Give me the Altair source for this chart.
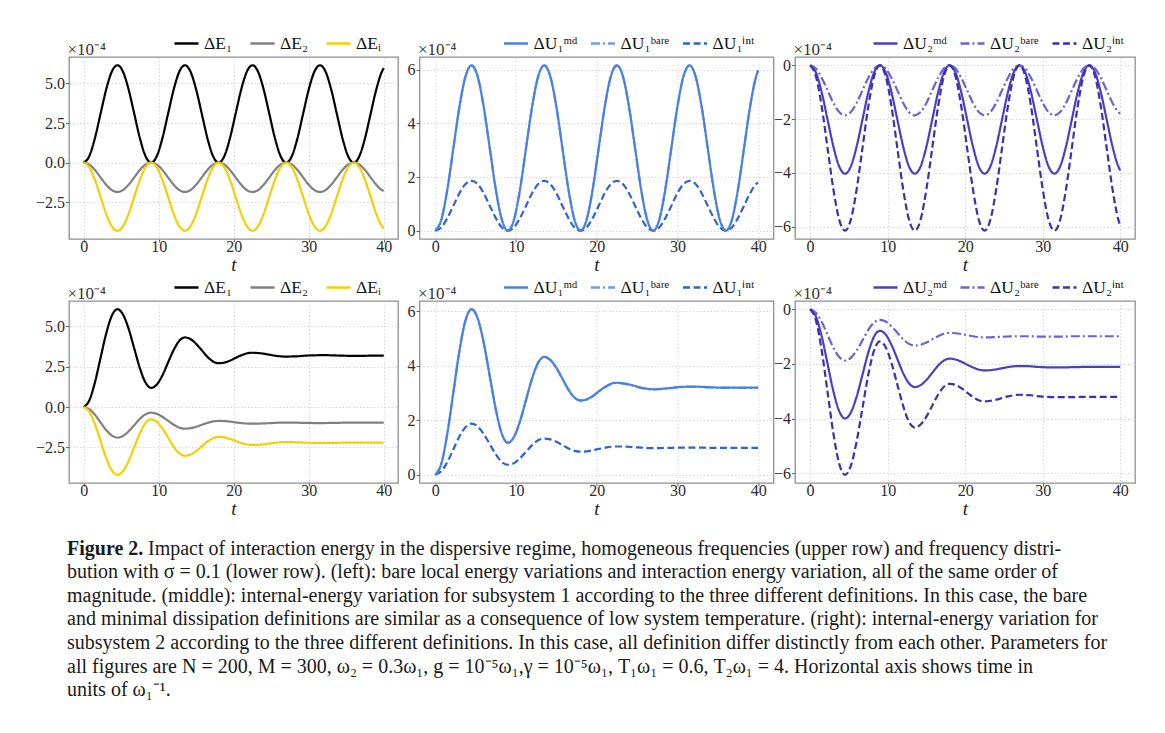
import altair as alt
import pandas as pd

# ---------------- time grid (units of 1/omega_1) ----------------
T = [0, 0.75, 1.5, 2.25, 3, 3.75, 4.5, 5.25, 6, 6.75, 7.5, 8.25,
     9, 9.75, 10.5, 11.25, 12, 12.75, 13.5, 14.25, 15, 15.75, 16.5, 17.25,
     18, 18.75, 19.5, 20.25, 21, 21.75, 22.5, 23.25, 24, 24.75, 25.5, 26.25,
     27, 27.75, 28.5, 29.25, 30, 30.75, 31.5, 32.25, 33, 33.75, 34.5, 35.25,
     36, 36.75, 37.5, 38.25, 39, 39.75, 40]

# ---------------- upper row (homogeneous frequencies), x 1e-4 ----------------
E1_UP = [0, 0.41, 1.54, 3.08, 4.61, 5.74, 6.15, 5.74, 4.61, 3.08, 1.54, 0.41,
         0, 0.41, 1.54, 3.08, 4.61, 5.74, 6.15, 5.74, 4.61, 3.08, 1.54, 0.41,
         0, 0.41, 1.54, 3.08, 4.61, 5.74, 6.15, 5.74, 4.61, 3.08, 1.54, 0.41,
         0, 0.41, 1.54, 3.08, 4.61, 5.74, 6.15, 5.74, 4.61, 3.08, 1.54, 0.41,
         0, 0.41, 1.54, 3.08, 4.61, 5.74, 5.97]
E2_UP = [0, -0.12, -0.46, -0.93, -1.39, -1.73, -1.85, -1.73, -1.39, -0.93, -0.46, -0.12,
         0, -0.12, -0.46, -0.93, -1.39, -1.73, -1.85, -1.73, -1.39, -0.93, -0.46, -0.12,
         0, -0.12, -0.46, -0.93, -1.39, -1.73, -1.85, -1.73, -1.39, -0.93, -0.46, -0.12,
         0, -0.12, -0.46, -0.93, -1.39, -1.73, -1.85, -1.73, -1.39, -0.93, -0.46, -0.12,
         0, -0.12, -0.46, -0.93, -1.39, -1.73, -1.79]
EI_UP = [0, -0.29, -1.08, -2.15, -3.23, -4.01, -4.30, -4.01, -3.23, -2.15, -1.08, -0.29,
         0, -0.29, -1.08, -2.15, -3.23, -4.01, -4.30, -4.01, -3.23, -2.15, -1.08, -0.29,
         0, -0.29, -1.08, -2.15, -3.23, -4.01, -4.30, -4.01, -3.23, -2.15, -1.08, -0.29,
         0, -0.29, -1.08, -2.15, -3.23, -4.01, -4.30, -4.01, -3.23, -2.15, -1.08, -0.29,
         0, -0.29, -1.08, -2.15, -3.23, -4.01, -4.17]
U1MD_UP = [0, 0.41, 1.54, 3.09, 4.63, 5.76, 6.17, 5.76, 4.63, 3.09, 1.54, 0.41,
           0, 0.41, 1.54, 3.09, 4.63, 5.76, 6.17, 5.76, 4.63, 3.09, 1.54, 0.41,
           0, 0.41, 1.54, 3.09, 4.63, 5.76, 6.17, 5.76, 4.63, 3.09, 1.54, 0.41,
           0, 0.41, 1.54, 3.09, 4.63, 5.76, 6.17, 5.76, 4.63, 3.09, 1.54, 0.41,
           0, 0.41, 1.54, 3.09, 4.63, 5.76, 5.98]
U1BARE_UP = [0, 0.41, 1.54, 3.08, 4.62, 5.75, 6.16, 5.75, 4.62, 3.08, 1.54, 0.41,
             0, 0.41, 1.54, 3.08, 4.62, 5.75, 6.16, 5.75, 4.62, 3.08, 1.54, 0.41,
             0, 0.41, 1.54, 3.08, 4.62, 5.75, 6.16, 5.75, 4.62, 3.08, 1.54, 0.41,
             0, 0.41, 1.54, 3.08, 4.62, 5.75, 6.16, 5.75, 4.62, 3.08, 1.54, 0.41,
             0, 0.41, 1.54, 3.08, 4.62, 5.75, 5.97]
U1INT_UP = [0, 0.12, 0.47, 0.93, 1.40, 1.74, 1.86, 1.74, 1.40, 0.93, 0.47, 0.12,
            0, 0.12, 0.47, 0.93, 1.40, 1.74, 1.86, 1.74, 1.40, 0.93, 0.47, 0.12,
            0, 0.12, 0.47, 0.93, 1.40, 1.74, 1.86, 1.74, 1.40, 0.93, 0.47, 0.12,
            0, 0.12, 0.47, 0.93, 1.40, 1.74, 1.86, 1.74, 1.40, 0.93, 0.47, 0.12,
            0, 0.12, 0.47, 0.93, 1.40, 1.74, 1.80]
U2MD_UP = [0, -0.27, -1.01, -2.02, -3.02, -3.76, -4.03, -3.76, -3.02, -2.02, -1.01, -0.27,
           0, -0.27, -1.01, -2.02, -3.02, -3.76, -4.03, -3.76, -3.02, -2.02, -1.01, -0.27,
           0, -0.27, -1.01, -2.02, -3.02, -3.76, -4.03, -3.76, -3.02, -2.02, -1.01, -0.27,
           0, -0.27, -1.01, -2.02, -3.02, -3.76, -4.03, -3.76, -3.02, -2.02, -1.01, -0.27,
           0, -0.27, -1.01, -2.02, -3.02, -3.76, -3.91]
U2BARE_UP = [0, -0.12, -0.47, -0.93, -1.40, -1.74, -1.86, -1.74, -1.40, -0.93, -0.47, -0.12,
             0, -0.12, -0.47, -0.93, -1.40, -1.74, -1.86, -1.74, -1.40, -0.93, -0.47, -0.12,
             0, -0.12, -0.47, -0.93, -1.40, -1.74, -1.86, -1.74, -1.40, -0.93, -0.47, -0.12,
             0, -0.12, -0.47, -0.93, -1.40, -1.74, -1.86, -1.74, -1.40, -0.93, -0.47, -0.12,
             0, -0.12, -0.47, -0.93, -1.40, -1.74, -1.80]
U2INT_UP = [0, -0.41, -1.54, -3.08, -4.61, -5.74, -6.15, -5.74, -4.61, -3.08, -1.54, -0.41,
            0, -0.41, -1.54, -3.08, -4.61, -5.74, -6.15, -5.74, -4.61, -3.08, -1.54, -0.41,
            0, -0.41, -1.54, -3.08, -4.61, -5.74, -6.15, -5.74, -4.61, -3.08, -1.54, -0.41,
            0, -0.41, -1.54, -3.08, -4.61, -5.74, -6.15, -5.74, -4.61, -3.08, -1.54, -0.41,
            0, -0.41, -1.54, -3.08, -4.61, -5.74, -5.97]

# ---------------- lower row (frequency distribution, sigma = 0.1), x 1e-4 ----------------
E1_LOW = [0, 0.41, 1.52, 3.04, 4.55, 5.66, 6.07,
          5.74, 4.85, 3.63, 2.41, 1.52, 1.19,
          1.40, 1.97, 2.76, 3.54, 4.11, 4.32,
          4.21, 3.92, 3.52, 3.12, 2.83, 2.72,
          2.76, 2.88, 3.05, 3.21, 3.33, 3.37,
          3.35, 3.31, 3.25, 3.19, 3.15, 3.13,
          3.14, 3.15, 3.18, 3.20, 3.21, 3.22,
          3.22, 3.21, 3.20, 3.19, 3.18, 3.18,
          3.18, 3.18, 3.19, 3.19, 3.19, 3.19]
E2_LOW = [0, -0.13, -0.47, -0.95, -1.42, -1.76, -1.89,
          -1.79, -1.50, -1.12, -0.73, -0.45, -0.35,
          -0.42, -0.60, -0.85, -1.09, -1.27, -1.34,
          -1.31, -1.22, -1.10, -0.98, -0.89, -0.86,
          -0.87, -0.90, -0.95, -0.99, -1.02, -1.03,
          -1.03, -1.01, -1.00, -0.98, -0.96, -0.96,
          -0.96, -0.97, -0.98, -0.98, -0.99, -0.99,
          -0.99, -0.98, -0.98, -0.97, -0.97, -0.97,
          -0.97, -0.97, -0.97, -0.97, -0.97, -0.97]
EI_LOW = [0, -0.28, -1.05, -2.10, -3.15, -3.92, -4.20,
          -3.97, -3.34, -2.48, -1.62, -0.99, -0.76,
          -0.91, -1.33, -1.89, -2.46, -2.87, -3.02,
          -2.94, -2.73, -2.44, -2.14, -1.93, -1.85,
          -1.88, -1.98, -2.10, -2.23, -2.32, -2.35,
          -2.34, -2.31, -2.26, -2.22, -2.18, -2.17,
          -2.17, -2.19, -2.20, -2.22, -2.23, -2.23,
          -2.23, -2.22, -2.22, -2.21, -2.21, -2.21,
          -2.21, -2.21, -2.21, -2.21, -2.21, -2.21]
U1MD_LOW = [0, 0.41, 1.52, 3.04, 4.56, 5.67, 6.08,
            5.75, 4.86, 3.63, 2.41, 1.51, 1.18,
            1.39, 1.97, 2.76, 3.54, 4.12, 4.33,
            4.22, 3.93, 3.53, 3.13, 2.84, 2.73,
            2.77, 2.89, 3.06, 3.22, 3.34, 3.38,
            3.36, 3.32, 3.26, 3.20, 3.16, 3.14,
            3.15, 3.17, 3.19, 3.22, 3.23, 3.24,
            3.24, 3.23, 3.22, 3.21, 3.20, 3.20,
            3.20, 3.20, 3.20, 3.20, 3.20, 3.20]
U1BARE_LOW = [0, 0.41, 1.52, 3.04, 4.55, 5.66, 6.07,
              5.74, 4.85, 3.62, 2.40, 1.50, 1.17,
              1.38, 1.96, 2.75, 3.53, 4.11, 4.32,
              4.21, 3.92, 3.52, 3.12, 2.83, 2.72,
              2.76, 2.88, 3.05, 3.21, 3.33, 3.37,
              3.35, 3.31, 3.25, 3.19, 3.15, 3.13,
              3.14, 3.16, 3.18, 3.21, 3.22, 3.23,
              3.23, 3.22, 3.21, 3.20, 3.19, 3.19,
              3.19, 3.19, 3.19, 3.19, 3.19, 3.19]
U1INT_LOW = [0, 0.13, 0.47, 0.94, 1.41, 1.75, 1.88,
             1.78, 1.50, 1.13, 0.75, 0.47, 0.37,
             0.43, 0.61, 0.85, 1.09, 1.27, 1.33,
             1.30, 1.21, 1.09, 0.97, 0.88, 0.85,
             0.86, 0.90, 0.95, 0.99, 1.03, 1.04,
             1.04, 1.03, 1.01, 1.00, 0.98, 0.98,
             0.98, 0.99, 0.99, 1.00, 1.00, 1.00,
             1.00, 1.00, 0.99, 0.99, 0.99, 0.99,
             0.99, 0.99, 0.99, 0.99, 0.99, 0.99]
U2MD_LOW = [0, -0.27, -1.00, -2.00, -3.00, -3.73, -4.00,
            -3.78, -3.20, -2.40, -1.59, -1.00, -0.79,
            -0.93, -1.31, -1.82, -2.34, -2.71, -2.85,
            -2.78, -2.59, -2.33, -2.07, -1.88, -1.81,
            -1.84, -1.92, -2.03, -2.13, -2.21, -2.24,
            -2.23, -2.20, -2.16, -2.12, -2.09, -2.08,
            -2.08, -2.09, -2.11, -2.12, -2.13, -2.13,
            -2.13, -2.13, -2.12, -2.12, -2.11, -2.11,
            -2.11, -2.11, -2.11, -2.11, -2.11, -2.11]
U2BARE_LOW = [0, -0.13, -0.47, -0.94, -1.41, -1.75, -1.88,
              -1.78, -1.51, -1.14, -0.76, -0.49, -0.39,
              -0.45, -0.63, -0.86, -1.10, -1.27, -1.33,
              -1.30, -1.22, -1.10, -0.99, -0.90, -0.87,
              -0.88, -0.91, -0.95, -0.99, -1.02, -1.03,
              -1.03, -1.02, -1.01, -1.00, -0.99, -0.99,
              -0.99, -0.99, -1.00, -1.00, -1.00, -1.00,
              -1.00, -1.00, -0.99, -0.99, -0.99, -0.99,
              -0.99, -0.99, -0.99, -0.99, -0.99, -0.99]
U2INT_LOW = [0, -0.41, -1.52, -3.03, -4.55, -5.65, -6.06,
             -5.73, -4.84, -3.62, -2.40, -1.51, -1.18,
             -1.39, -1.97, -2.76, -3.54, -4.12, -4.33,
             -4.22, -3.93, -3.53, -3.13, -2.84, -2.73,
             -2.77, -2.89, -3.05, -3.21, -3.33, -3.37,
             -3.35, -3.31, -3.25, -3.19, -3.15, -3.13,
             -3.14, -3.15, -3.18, -3.20, -3.21, -3.22,
             -3.22, -3.22, -3.22, -3.21, -3.21, -3.21,
             -3.21, -3.21, -3.21, -3.21, -3.21, -3.21]

# ---------------- labels / ticks ----------------
NAMES_E = ["ΔE₁", "ΔE₂", "ΔEᵢ"]
NAMES_U1 = ["ΔU₁ᵐᵈ", "ΔU₁ᵇᵃʳᵉ", "ΔU₁ⁱⁿᵗ"]
NAMES_U2 = ["ΔU₂ᵐᵈ", "ΔU₂ᵇᵃʳᵉ", "ΔU₂ⁱⁿᵗ"]
X_TICKS = [0, 10, 20, 30, 40]
Y_TICKS_E = [-2.5, 0.0, 2.5, 5.0]
Y_TICKS_U1 = [0, 2, 4, 6]
Y_TICKS_U2 = [-6, -4, -2, 0]

CAPTION_BOLD = "Figure 2."
CAPTION_FIRST = ("Impact of interaction energy in the dispersive regime, homogeneous frequencies "
                 "(upper row) and frequency distri-")
CAPTION_LINES = [
    "bution with σ = 0.1 (lower row). (left): bare local energy variations and interaction energy variation, all of the same order of",
    "magnitude. (middle): internal-energy variation for subsystem 1 according to the three different definitions. In this case, the bare",
    "and minimal dissipation definitions are similar as a consequence of low system temperature. (right): internal-energy variation for",
    "subsystem 2 according to the three different definitions. In this case, all definition differ distinctly from each other. Parameters for",
    "all figures are N = 200, M = 300, ω₂ = 0.3ω₁, g = 10⁻⁵ω₁,γ = 10⁻⁵ω₁, T₁ω₁ = 0.6, T₂ω₁ = 4. Horizontal axis shows time in",
    "units of ω₁⁻¹.",
]

FONT = "Liberation Serif"
SOLID = [1, 0]
DASHDOT = [9, 3, 2, 3]
DASHED = [7, 3.5]


def panel(names, series, colors, dashes, draw_order, ydom, yticks, yfmt, w, h, legx, colpad):
    rows = []
    for idx in draw_order:
        for t, v in zip(T, series[idx]):
            rows.append({"t": t, "v": v, "s": names[idx]})
    df = pd.DataFrame(rows)
    leg = alt.Legend(orient="none", legendX=legx, legendY=-27, direction="horizontal",
                     title=None, symbolType="stroke", symbolSize=576, symbolStrokeWidth=2.4,
                     labelFont=FONT, labelFontSize=17.5, labelColor="#111", columnPadding=colpad,
                     labelOffset=4, padding=0, labelLimit=200)
    return alt.Chart(df).mark_line(interpolate="monotone", strokeWidth=2.2).encode(
        x=alt.X("t:Q", scale=alt.Scale(domain=[-1.95, 41.9], nice=False, zero=False),
                axis=alt.Axis(values=X_TICKS, format="d", title="t", titleFontStyle="italic",
                              titleFontSize=19, titlePadding=1, tickSize=3, labelPadding=-4)),
        y=alt.Y("v:Q", scale=alt.Scale(domain=ydom, nice=False, zero=False),
                axis=alt.Axis(values=yticks, format=yfmt, title="×10⁻⁴", titleAngle=0,
                              titleX=-2, titleY=-3, titleAlign="left",
                              titleBaseline="alphabetic", titleFontSize=17,
                              titleColor="#333")),
        color=alt.Color("s:N", scale=alt.Scale(domain=names, range=colors), legend=leg),
        strokeDash=alt.StrokeDash("s:N", scale=alt.Scale(domain=names, range=dashes), legend=leg),
    ).properties(width=w, height=h)


H = 182
W_L, W_M, W_R = 329, 354, 340
E_COLORS = ["#000000", "#808080", "#f5cf00"]
U1_COLORS = ["#4a80e6", "#6a9cf0", "#2f62d4"]
U2_COLORS = ["#4b3ec6", "#6b62d6", "#3b2fb2"]
DASHES = [SOLID, DASHDOT, DASHED]

tl = panel(NAMES_E, [E1_UP, E2_UP, EI_UP], E_COLORS, [SOLID, SOLID, SOLID], [0, 1, 2],
           [-4.82, 6.67], Y_TICKS_E, ".1f", W_L, H, 104, 12)
tm = panel(NAMES_U1, [U1MD_UP, U1BARE_UP, U1INT_UP], U1_COLORS, DASHES, [1, 2, 0],
           [-0.31, 6.48], Y_TICKS_U1, "d", W_M, H, 83, 8)
tr = panel(NAMES_U2, [U2MD_UP, U2BARE_UP, U2INT_UP], U2_COLORS, DASHES, [0, 1, 2],
           [-6.46, 0.31], Y_TICKS_U2, "d", W_R, H, 77, 8)

bl = panel(NAMES_E, [E1_LOW, E2_LOW, EI_LOW], E_COLORS, [SOLID, SOLID, SOLID], [0, 1, 2],
           [-4.71, 6.58], Y_TICKS_E, ".1f", W_L, H, 104, 12)
bm = panel(NAMES_U1, [U1MD_LOW, U1BARE_LOW, U1INT_LOW], U1_COLORS, DASHES, [1, 2, 0],
           [-0.30, 6.38], Y_TICKS_U1, "d", W_M, H, 83, 8)
br = panel(NAMES_U2, [U2MD_LOW, U2BARE_LOW, U2INT_LOW], U2_COLORS, DASHES, [0, 1, 2],
           [-6.36, 0.30], Y_TICKS_U2, "d", W_R, H, 77, 8)

# ---------------- caption (third grid row, text overflows its narrow cell) ----------------
LINE_H = 23.6
CAP_SIZE = 20
cap_rest = pd.DataFrame({"i": list(range(1, 1 + len(CAPTION_LINES))), "txt": CAPTION_LINES})
cap_first = pd.DataFrame({"i": [0], "txt": [CAPTION_FIRST]})
cap_bold = pd.DataFrame({"i": [0], "txt": [CAPTION_BOLD]})
yenc = alt.Y("i:Q", scale=alt.Scale(domain=[-0.15, 6.85], reverse=True), axis=None)
c1 = alt.Chart(cap_bold).mark_text(align="left", baseline="middle", font=FONT, fontSize=CAP_SIZE,
                                   fontWeight="bold", color="#1a1a1a").encode(
    x=alt.value(-2), y=yenc, text="txt:N")
c2 = alt.Chart(cap_first).mark_text(align="left", baseline="middle", font=FONT, fontSize=CAP_SIZE,
                                    color="#1a1a1a").encode(
    x=alt.value(79), y=yenc, text="txt:N")
c3 = alt.Chart(cap_rest).mark_text(align="left", baseline="middle", font=FONT, fontSize=CAP_SIZE,
                                   color="#1a1a1a").encode(
    x=alt.value(-2), y=yenc, text="txt:N")
caption = alt.layer(c1, c2, c3).properties(
    width=W_L, height=7 * LINE_H,
    view=alt.ViewBackground(stroke="transparent", fill="transparent"),
)

chart = alt.concat(
    tl, tm, tr, bl, bm, br, caption,
    columns=3, spacing={"row": 62, "column": 21.5}, bounds="flush",
).resolve_scale(
    x="independent", y="independent", color="independent", strokeDash="independent",
).resolve_legend(
    color="independent", strokeDash="independent",
).resolve_axis(
    x="independent", y="independent",
).properties(
    padding={"left": 26, "top": 21, "right": 5, "bottom": 5},
    background="white",
).configure_view(
    stroke="#8f8f8f", strokeWidth=1.3,
).configure_axis(
    labelFont=FONT, labelFontSize=16, labelColor="#2a2a2a", labelPadding=1,
    titleFont=FONT, titleFontWeight="normal", titleColor="#222",
    domain=False, tickColor="#666", tickSize=3.5, tickWidth=1,
    grid=True, gridColor="#cfcfcf", gridDash=[1.5, 2], gridWidth=0.8,
).configure_legend(
    labelFont=FONT,
)

chart.save("out.html", embed_options={"renderer": "svg", "actions": False})
